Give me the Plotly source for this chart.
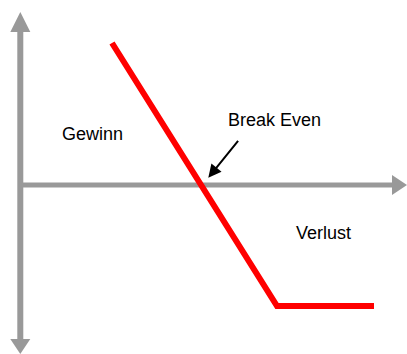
import plotly.graph_objects as go

# Payoff profile (price -> profit/loss), origin at axis crossing
price = [91.7, 256.7, 353.7]
payoff = [142, -121, -121]

# Axis extents
x_axis_start = 0
x_head_base = 371.7
x_head_tip = 386.7
y_head_top_base = 153
y_head_top_tip = 173
y_head_bot_base = -154
y_head_bot_tip = -169
head_half = 10

# Labels
labels = ["Gewinn", "Break Even", "Verlust"]
label_x = [71.7, 254.2, 302.7]
label_y = [51, 65, -48]

# Break-even pointer
arrow_tip = (188, 7.3)
arrow_tail = (219, 45.7)

gray = "#999999"
fig = go.Figure()

# vertical axis shaft
fig.add_trace(go.Scatter(x=[0, 0], y=[y_head_bot_base, y_head_top_base], mode="lines",
                         line=dict(color=gray, width=6), hoverinfo="skip"))
# horizontal axis shaft
fig.add_trace(go.Scatter(x=[x_axis_start, x_head_base], y=[0, 0], mode="lines",
                         line=dict(color=gray, width=5), hoverinfo="skip"))
# arrow heads
fig.add_trace(go.Scatter(x=[-head_half, head_half, 0, -head_half],
                         y=[y_head_top_base, y_head_top_base, y_head_top_tip, y_head_top_base],
                         mode="lines", fill="toself", fillcolor=gray, line=dict(width=0, color=gray),
                         hoverinfo="skip"))
fig.add_trace(go.Scatter(x=[-head_half, head_half, 0, -head_half],
                         y=[y_head_bot_base, y_head_bot_base, y_head_bot_tip, y_head_bot_base],
                         mode="lines", fill="toself", fillcolor=gray, line=dict(width=0, color=gray),
                         hoverinfo="skip"))
fig.add_trace(go.Scatter(x=[x_head_base, x_head_base, x_head_tip, x_head_base],
                         y=[-head_half, head_half, 0, -head_half],
                         mode="lines", fill="toself", fillcolor=gray, line=dict(width=0, color=gray),
                         hoverinfo="skip"))
# payoff line
fig.add_trace(go.Scatter(x=price, y=payoff, mode="lines",
                         line=dict(color="#ff0000", width=6), hoverinfo="skip"))

for t, lx, ly in zip(labels, label_x, label_y):
    fig.add_annotation(x=lx, y=ly, text=t, showarrow=False,
                       font=dict(family="Liberation Sans, Arial", size=18, color="#000000"))

fig.add_annotation(x=arrow_tip[0], y=arrow_tip[1], ax=arrow_tail[0], ay=arrow_tail[1],
                   xref="x", yref="y", axref="x", ayref="y", text="", showarrow=True,
                   arrowhead=2, arrowsize=1.3, arrowwidth=2, arrowcolor="#000000")

fig.update_layout(
    width=407, height=354, margin=dict(l=0, r=0, t=0, b=0),
    paper_bgcolor="white", plot_bgcolor="white", showlegend=False,
    xaxis=dict(range=[-20.3, 386.7], visible=False, fixedrange=True),
    yaxis=dict(range=[-169, 185], visible=False, fixedrange=True),
)
fig.write_html("out.html", config={"displayModeBar": False},
               post_script="document.body.style.margin='0';document.body.style.overflow='hidden';")
